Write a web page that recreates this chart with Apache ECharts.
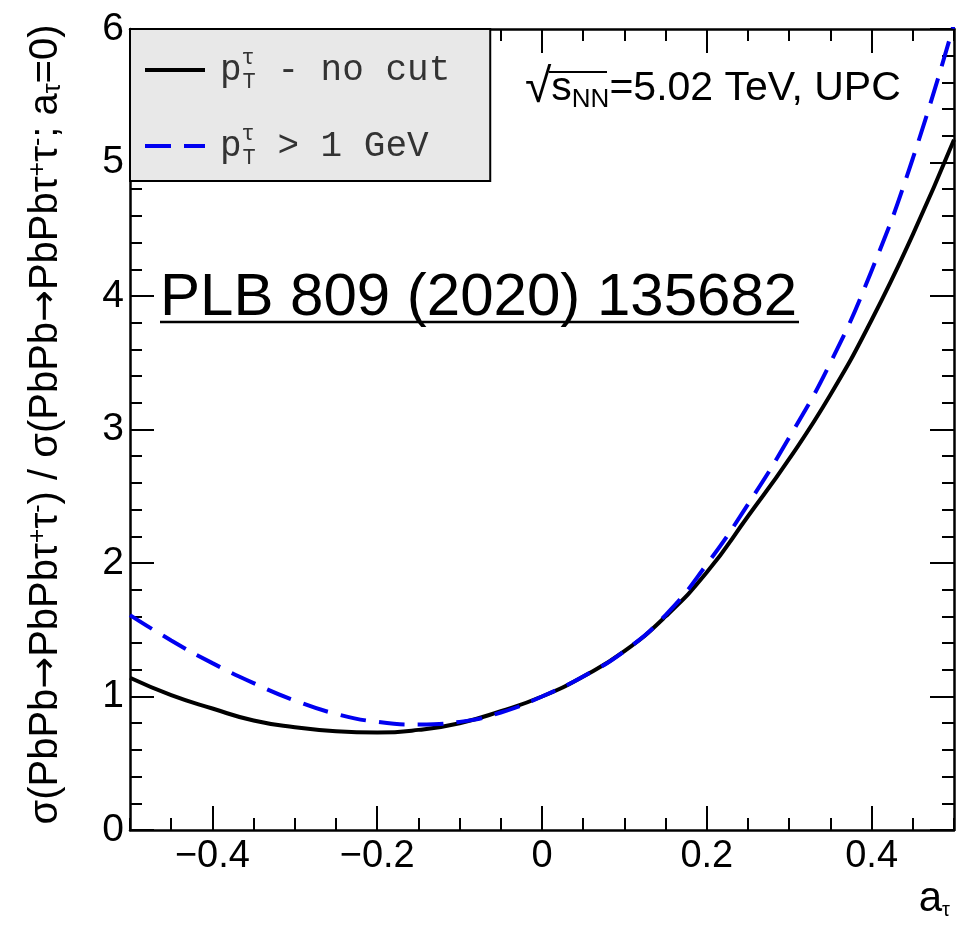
<!DOCTYPE html>
<html>
<head>
<meta charset="utf-8">
<script src="https://cdn.jsdelivr.net/npm/echarts@6/dist/echarts.min.js"></script>
<style>
html,body{margin:0;padding:0;background:#fff}
#chart{width:976px;height:925px}
</style>
</head>
<body>
<div id="chart"></div>
<script>
// a_tau values (x)
var aTau = [-0.5, -0.45, -0.4, -0.35, -0.3, -0.25, -0.2, -0.15, -0.1, -0.05, 0,
            0.05, 0.1, 0.15, 0.2, 0.25, 0.3, 0.35, 0.4, 0.45, 0.5];
// ratio, pT - no cut (black solid)
var noCut = [1.14, 1.01, 0.91, 0.82, 0.77, 0.74, 0.73, 0.75, 0.80, 0.89, 1.00,
             1.15, 1.34, 1.60, 1.93, 2.35, 2.78, 3.26, 3.82, 4.46, 5.17];
// ratio, pT > 1 GeV (blue dashed)
var ptCut = [1.61, 1.42, 1.25, 1.10, 0.97, 0.87, 0.81, 0.79, 0.81, 0.88, 1.00,
             1.15, 1.34, 1.61, 1.99, 2.44, 2.94, 3.50, 4.19, 5.03, 6.04];
var xLabelTicks = [-0.4, -0.2, 0, 0.2, 0.4];

var FONT = '"Liberation Sans", Arial, Helvetica, sans-serif';
var MONO = '"Liberation Mono", "Courier New", monospace';

function pairs(xs, ys) {
    return xs.map(function (x, i) { return [x, ys[i]]; });
}
function fmtX(v) {
    var s = String(Math.round(v * 10) / 10);
    return v < 0 ? '\u2212' + s.slice(1) : s;
}

var chart = echarts.init(document.getElementById('chart'), null, {renderer: 'canvas'});

var frameLine = {show: true, onZero: false, lineStyle: {color: '#000', width: 2.5}};
var noLine = {show: false, onZero: false};
var tickStyle = {color: '#000', width: 2};
var xBase = {type: 'value', min: -0.5, max: 0.5, splitLine: {show: false}};

var option = {
    animation: false,
    backgroundColor: '#fff',
    grid: {left: 130, right: 22, top: 29, bottom: 95, outerBoundsMode: 'none'},
    legend: {
        data: ['noCut', 'ptCut'],
        orient: 'vertical',
        left: 130,
        top: 29,
        itemWidth: 60,
        itemHeight: 14,
        itemGap: 30,
        padding: [18, 40, 12, 13],
        backgroundColor: '#e8e8e8',
        borderColor: '#000',
        borderWidth: 2,
        borderRadius: 0,
        itemStyle: {opacity: 0},
        lineStyle: {width: 4},
        formatter: function (name) {
            return name === 'noCut'
                ? '{p|p}{tau|\u03c4}{T|T}{t| - no cut}'
                : '{p|p}{tau|\u03c4}{T|T}{t| > 1 GeV}';
        },
        textStyle: {
            fontFamily: MONO, fontSize: 36, color: '#333', padding: [0, 0, 0, 10],
            rich: {
                p: {fontFamily: MONO, fontSize: 36, color: '#333', lineHeight: 46},
                tau: {fontFamily: MONO, fontSize: 22, color: '#333', width: 1, verticalAlign: 'top', lineHeight: 22},
                T: {fontFamily: MONO, fontSize: 22, color: '#333', verticalAlign: 'bottom', lineHeight: 22},
                t: {fontFamily: MONO, fontSize: 36, color: '#333', lineHeight: 46}
            }
        }
    },
    xAxis: [
        Object.assign({}, xBase, {
            position: 'bottom', interval: 0.1,
            axisLine: frameLine,
            axisTick: {show: true, inside: true, length: 24, customValues: xLabelTicks, lineStyle: tickStyle},
            axisLabel: {show: true, customValues: xLabelTicks, formatter: fmtX, margin: 8,
                        fontFamily: FONT, fontSize: 38, color: '#000'}
        }),
        Object.assign({}, xBase, {
            position: 'bottom', interval: 0.05,
            axisLine: noLine,
            axisTick: {show: true, inside: true, length: 12, lineStyle: tickStyle},
            axisLabel: {show: false}
        }),
        Object.assign({}, xBase, {
            position: 'top', interval: 0.1,
            axisLine: frameLine,
            axisTick: {show: true, inside: true, length: 24, customValues: xLabelTicks, lineStyle: tickStyle},
            axisLabel: {show: false}
        }),
        Object.assign({}, xBase, {
            position: 'top', interval: 0.05,
            axisLine: noLine,
            axisTick: {show: true, inside: true, length: 12, lineStyle: tickStyle},
            axisLabel: {show: false}
        })
    ],
    yAxis: [
        {
            type: 'value', min: 0, max: 6, interval: 1, position: 'left',
            splitLine: {show: false},
            axisLine: frameLine,
            axisTick: {show: true, inside: true, length: 24, lineStyle: tickStyle},
            minorTick: {show: true, splitNumber: 5, length: 12, lineStyle: tickStyle},
            axisLabel: {margin: 6, fontFamily: FONT, fontSize: 39, color: '#000'},
            name: '\u03c3(PbPb{arr|\u2192}PbPb\u03c4{sup|+}\u03c4{sup|-}) / \u03c3(PbPb{arr|\u2192}PbPb\u03c4{sup|+}\u03c4{sup|-}; a{sub|\u03c4}=0)',
            nameLocation: 'middle',
            nameRotate: 90,
            nameGap: 64,
            nameTextStyle: {
                fontFamily: FONT, fontSize: 40, color: '#000', padding: [0, 0, 0, 10],
                rich: {
                    arr: {fontFamily: '"DejaVu Sans", sans-serif', fontSize: 38, color: '#000'},
                    sup: {fontFamily: FONT, fontSize: 25, color: '#000', verticalAlign: 'top', lineHeight: 22},
                    sub: {fontFamily: FONT, fontSize: 25, color: '#000', verticalAlign: 'bottom', lineHeight: 22}
                }
            }
        },
        {
            type: 'value', min: 0, max: 6, interval: 1, position: 'right',
            splitLine: {show: false},
            axisLine: frameLine,
            axisTick: {show: true, inside: true, length: 24, lineStyle: tickStyle},
            minorTick: {show: true, splitNumber: 5, length: 12, lineStyle: tickStyle},
            axisLabel: {show: false}
        }
    ],
    graphic: [
        {
            type: 'text', left: 525, top: 65,
            style: {
                text: '{rad|\u221a}{s|s}{sub|NN}=5.02 TeV, UPC',
                fontFamily: FONT, fontSize: 41, fill: '#000',
                rich: {
                    rad: {fontFamily: FONT, fontSize: 48, fill: '#000'},
                    s: {fontFamily: FONT, fontSize: 41, fill: '#000'},
                    sub: {fontFamily: FONT, fontSize: 26, fill: '#000', verticalAlign: 'bottom'}
                }
            }
        },
        {
            type: 'line', shape: {x1: 549, y1: 72, x2: 607, y2: 72},
            style: {stroke: '#000', lineWidth: 2}
        },
        {
            type: 'text', left: 160, top: 268,
            style: {text: 'PLB 809 (2020) 135682', fontFamily: FONT, fontSize: 60, fill: '#000'}
        },
        {
            type: 'line', shape: {x1: 160, y1: 322, x2: 799, y2: 322},
            style: {stroke: '#000', lineWidth: 2.5}
        },
        {
            type: 'text', right: 26, top: 878,
            style: {
                text: 'a{sub|\u03c4}',
                fontFamily: FONT, fontSize: 42, fill: '#000',
                rich: {sub: {fontFamily: FONT, fontSize: 20, fill: '#000', verticalAlign: 'bottom'}}
            }
        }
    ],
    series: [
        {
            name: 'noCut',
            type: 'line',
            data: pairs(aTau, noCut),
            smooth: 0.5,
            symbol: 'none',
            clip: true,
            lineStyle: {color: '#000', width: 4},
            itemStyle: {color: '#000'},
            z: 3
        },
        {
            name: 'ptCut',
            type: 'line',
            data: pairs(aTau, ptCut),
            smooth: 0.5,
            symbol: 'none',
            clip: true,
            lineStyle: {color: '#0000f0', width: 4, type: [26, 13]},
            itemStyle: {color: '#0000f0'},
            z: 4
        }
    ]
};
chart.setOption(option);
</script>
</body>
</html>
